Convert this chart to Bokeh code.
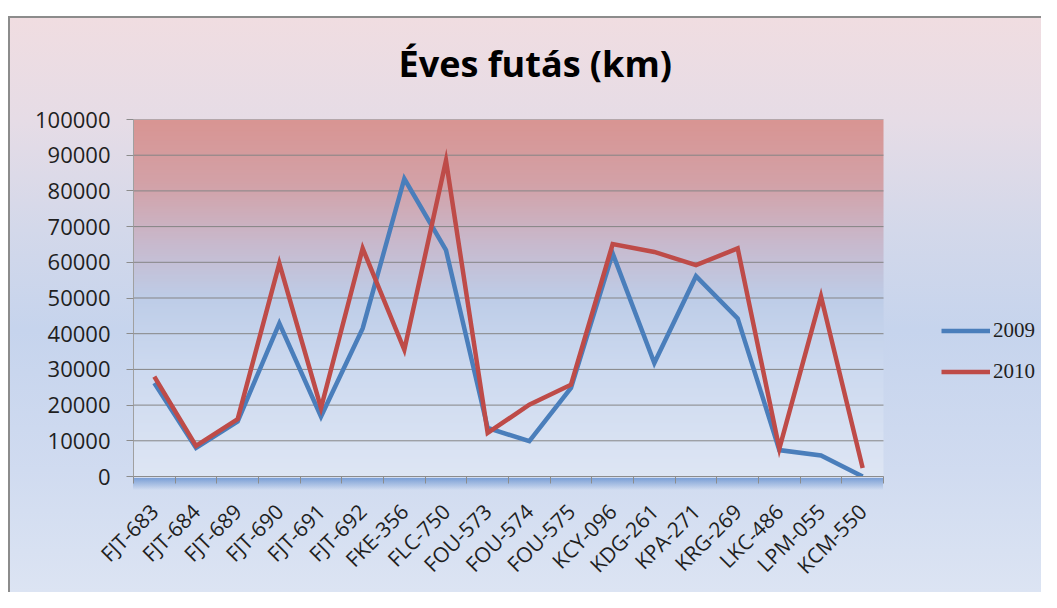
import numpy as np
from bokeh.plotting import figure
from bokeh.models import (Range1d, FixedTicker, Legend, LegendItem, BasicTickFormatter)
from bokeh.embed import file_html
from bokeh.resources import INLINE

# ---- data ----
categories = ["FJT-683", "FJT-684", "FJT-689", "FJT-690", "FJT-691", "FJT-692",
              "FKE-356", "FLC-750", "FOU-573", "FOU-574", "FOU-575", "KCY-096",
              "KDG-261", "KPA-271", "KRG-269", "LKC-486", "LPM-055", "KCM-550"]
v2009 = [26200, 8000, 15400, 42900, 16800, 41500, 83400, 63400, 13600, 9900,
         24800, 62500, 31800, 56100, 44300, 7400, 5900, 0]
v2010 = [28000, 8600, 16100, 59700, 19200, 63900, 35500, 88500, 12200, 20100,
         25700, 65100, 62900, 59200, 63900, 7800, 50400, 2400]
y_ticks = [0, 10000, 20000, 30000, 40000, 50000, 60000, 70000, 80000, 90000, 100000]
series_names = ["2009", "2010"]
title_text = "Éves futás (km)"

n = len(categories)
centers = [i + 0.5 for i in range(n)]
bounds_ticks = list(range(n + 1))
y_max = y_ticks[-1]

W, H = 1041, 592
frame_left, frame_top, frame_bottom = 133, 119, 477
plot_px = 750                      # pixel width of the category area
frame_px = W - frame_left          # frame runs to the right edge (room for legend)
x_end = n * frame_px / plot_px

p = figure(width=W, height=H, output_backend="svg", toolbar_location=None,
           x_range=Range1d(0, x_end), y_range=Range1d(0, y_max),
           min_border_left=frame_left, min_border_right=0, min_border_top=frame_top,
           min_border_bottom=H - frame_bottom)

p.background_fill_color = None
p.border_fill_color = None
p.outline_line_color = None
p.styles = {
    "background-image": ", ".join([
        "linear-gradient(#ffffff, #ffffff)",
        "linear-gradient(#ffffff, #ffffff)",
        "linear-gradient(#8c8c8c, #8c8c8c)",
        "linear-gradient(#8c8c8c, #8c8c8c)",
        "linear-gradient(to bottom, rgba(118,156,212,0.95), rgba(160,188,228,0.0))",
        "linear-gradient(to bottom, #f2dde0 0px, #e6dce6 120px, #d3d8ea 230px, "
        "#c6d4ed 330px, #d0dbf0 470px, #dce4f3 592px)",
    ]),
    "background-position": "0px 0px, 0px 0px, 8px 16px, 8px 16px, 133px 478px, 0px 0px",
    "background-size": "100% 16px, 8px 100%, 100% 2px, 2px 100%, 750px 12px, 100% 100%",
    "background-repeat": "no-repeat",
}

# ---- plot-area gradient (decoration) ----
rows = 200
stops = [(0.0, (222, 230, 244)), (0.3, (205, 218, 240)), (0.5, (190, 205, 232)),
         (0.65, (200, 186, 206)), (0.82, (211, 162, 168)), (1.0, (217, 149, 147))]
fr = np.linspace(0, 1, rows)
sf = [s[0] for s in stops]
img = np.zeros((rows, 1), dtype=np.uint32)
view = img.view(dtype=np.uint8).reshape((rows, 1, 4))
for k in range(3):
    view[:, 0, k] = np.interp(fr, sf, [s[1][k] for s in stops]).astype(np.uint8)
view[:, 0, 3] = 255
p.image_rgba(image=[img], x=0, y=0, dw=n, dh=y_max)

# horizontal gridlines limited to the category area
p.segment(x0=[0] * len(y_ticks), x1=[n] * len(y_ticks), y0=y_ticks, y1=y_ticks,
          line_color="#858585", line_width=1)

# ---- lines ----
l1 = p.line(centers, v2009, line_color="#4a7ebb", line_width=4.5, line_join="miter")
l2 = p.line(centers, v2010, line_color="#be4b48", line_width=4.5, line_join="miter")

# ---- axes ----
xa = p.xaxis[0]
xa.ticker = FixedTicker(ticks=centers, minor_ticks=bounds_ticks)
xa.major_label_overrides = {c: lab for c, lab in zip(centers, categories)}
xa.bounds = (0, n)
xa.major_tick_out = 0
xa.major_tick_in = 0
xa.minor_tick_out = 7
xa.minor_tick_in = 0
xa.minor_tick_line_color = "#8c8c8c"
xa.axis_line_color = "#8c8c8c"
xa.major_label_orientation = np.pi / 4
xa.major_label_standoff = 24
xa.major_label_text_font = "Open Sans"
xa.major_label_text_font_size = "21px"
xa.major_label_text_color = "#1f1f1f"

ya = p.yaxis[0]
ya.ticker = FixedTicker(ticks=y_ticks)
ya.formatter = BasicTickFormatter(use_scientific=False)
ya.major_tick_out = 7
ya.major_tick_in = 0
ya.minor_tick_out = 0
ya.minor_tick_in = 0
ya.major_tick_line_color = "#8c8c8c"
ya.axis_line_color = "#a0a0a0"
ya.major_label_standoff = 16
ya.major_label_text_font = "Open Sans"
ya.major_label_text_font_size = "22px"
ya.major_label_text_color = "#1f1f1f"

p.xgrid.visible = False
p.ygrid.visible = False

# ---- title ----
p.title.text = title_text
p.title.align = "left"
p.title.offset = 265
p.title.text_font = "Open Sans"
p.title.text_font_style = "bold"
p.title.text_font_size = "36px"
p.title.text_color = "#000000"
p.title.standoff = 64

# ---- legend (to the right of the category area) ----
legend = Legend(items=[LegendItem(label=series_names[0], renderers=[l1]),
                       LegendItem(label=series_names[1], renderers=[l2])],
                location=(808, 92), orientation="vertical")
legend.background_fill_alpha = 0
legend.border_line_color = None
legend.glyph_width = 49
legend.glyph_height = 25
legend.label_height = 25
legend.spacing = 16
legend.padding = 0
legend.margin = 0
legend.label_standoff = 3
legend.label_text_font = "Liberation Serif"
legend.label_text_font_size = "21px"
legend.label_text_color = "#1f1f1f"
p.add_layout(legend, "center")

open("out.html", "w").write(file_html(p, INLINE))
